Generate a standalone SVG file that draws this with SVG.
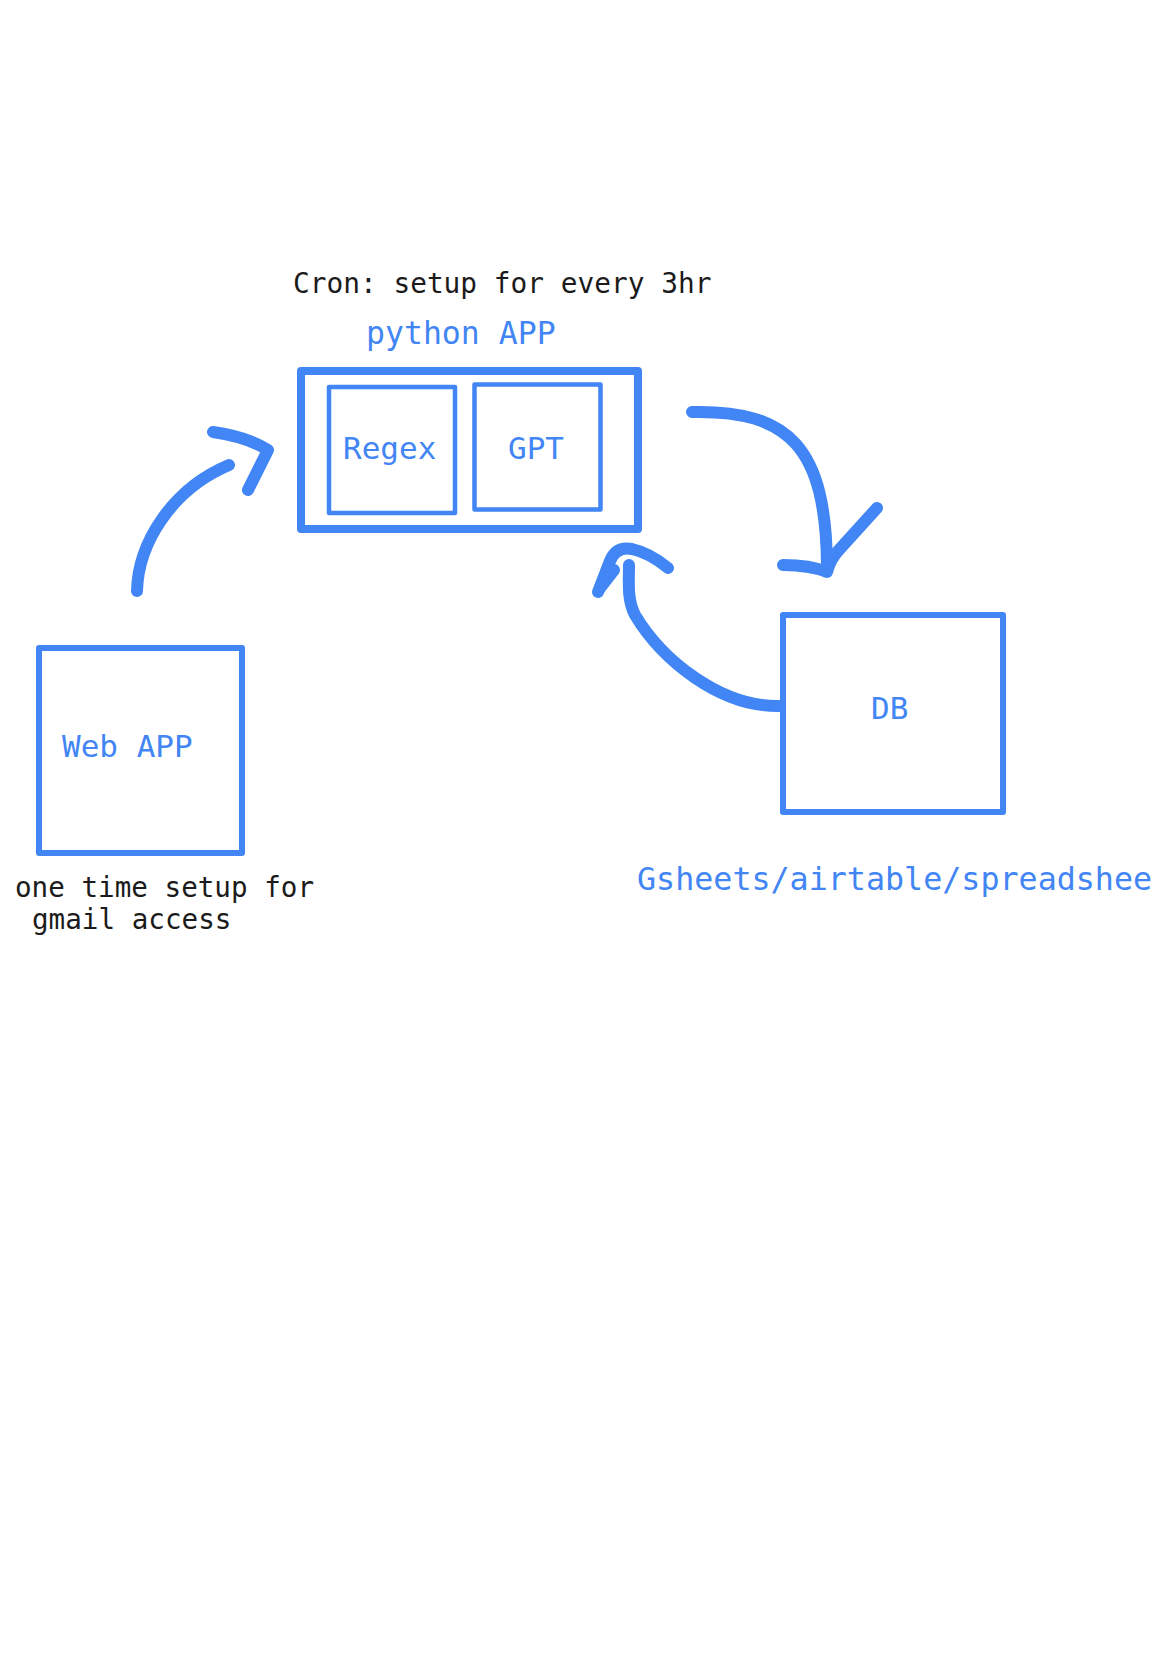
<svg xmlns="http://www.w3.org/2000/svg" width="1156" height="1676" viewBox="0 0 1156 1676">
<style>
.box{fill:none;stroke:#4285F4;stroke-linejoin:round}
.con{fill:none;stroke:#4285F4;stroke-width:12;stroke-linecap:round;stroke-linejoin:round}
.t{font-family:"DejaVu Sans Mono","Liberation Mono",monospace}
.blue{fill:#4285F4}
.dark{fill:#1b1b1b}
</style>
<rect width="1156" height="1676" fill="#ffffff"/>
<text class="t dark" x="293" y="293" font-size="27.8">Cron: setup for every 3hr</text>
<g id="python-app">
<text class="t blue" x="366" y="344" font-size="31.5">python APP</text>
<rect class="box" x="301" y="371" width="337" height="158" stroke-width="8"/>
</g>
<g id="regex">
<rect class="box" x="329" y="387" width="126" height="126" stroke-width="4.5"/>
<text class="t blue" x="343" y="459" font-size="31">Regex</text>
</g>
<g id="gpt">
<rect class="box" x="474.5" y="384.5" width="126" height="125" stroke-width="4.5"/>
<text class="t blue" x="508" y="459" font-size="31">GPT</text>
</g>
<g id="web-app">
<rect class="box" x="39" y="648" width="203" height="205" stroke-width="6"/>
<text class="t blue" x="62" y="757" font-size="31">Web APP</text>
<text class="t dark" x="15" y="897" font-size="27.6">one time setup for</text>
<text class="t dark" x="32" y="929" font-size="27.6">gmail access</text>
</g>
<g id="db">
<rect class="box" x="783" y="615" width="220" height="197" stroke-width="6"/>
<text class="t blue" x="871" y="719" font-size="31">DB</text>
<text class="t blue" x="637" y="890" font-size="31.7">Gsheets/airtable/spreadshee</text>
</g>
<g id="connectors">
<path class="con" d="M137,591 C138,545 170,490 229,465"/>
<path class="con" d="M213,432 Q248,437 268,450 L248,490"/>
<path class="con" d="M692,412 C790,410 826,448 827,566"/>
<path class="con" d="M783,565 Q810,565 827,572 Q830,560 838,551 L877,508"/>
<path class="con" d="M779,706 C720,707 662,660 635,615 C627,600 629,582 629,565"/>
<path class="con" d="M598,592 L610,561 Q616,546 632,549 Q650,553 668,568"/>
<path class="con" d="M600,588 L614,570"/>
</g>
</svg>
